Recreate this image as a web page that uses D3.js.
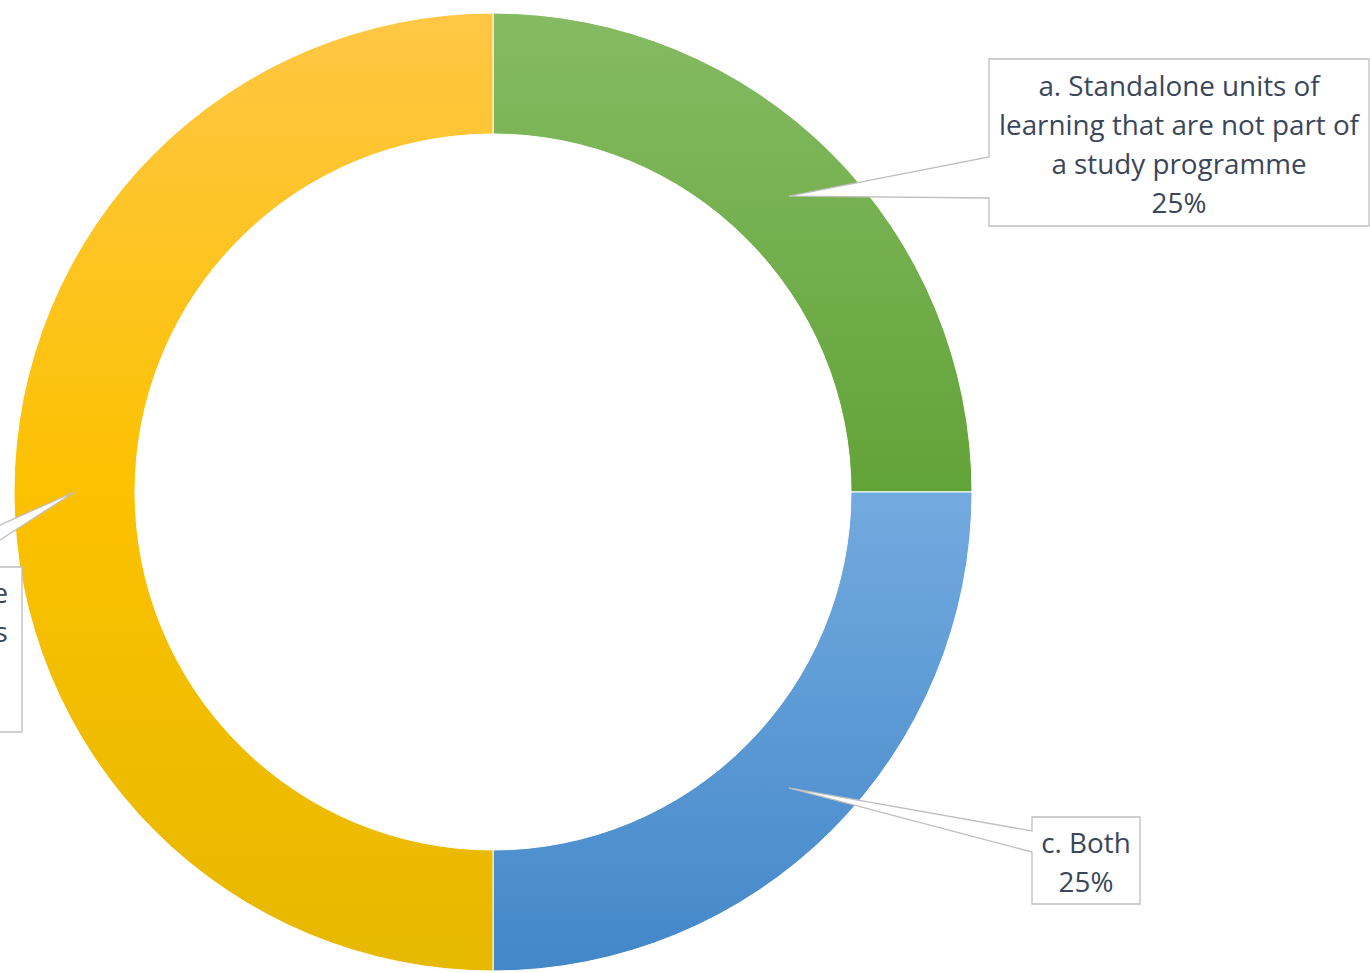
<!DOCTYPE html>
<html>
<head>
<meta charset="utf-8">
<script src="https://cdn.jsdelivr.net/npm/d3@7"></script>
<style>
  html, body { margin: 0; padding: 0; background: #fff; overflow: hidden; }
  svg { display: block; }
</style>
</head>
<body>
<script>
// slices in drawing order (clockwise from 12 o'clock)
const categories = ['a', 'c', 'b']
const values = [25, 25, 50]
const labelLines = {
    a: ['a. Standalone units of', 'learning that are not part of', 'a study programme', '25%'],
    c: ['c. Both', '25%'],
    b: ['b. Units of learning that are', 'listed in study programmes', 'or qualifications', '50%']
}
const colors = {
    a: ['#85BB63', '#62A338'],
    c: ['#73AADF', '#4387C9'],
    b: ['#FFC745', '#FCC100', '#E6B800']
}

const width = 1370, height = 973
const cx = 493, cy = 492
const outerR = 479, innerR = 358

const svg = d3.select('body').append('svg')
    .attr('width', width)
    .attr('height', height)

const defs = svg.append('defs')
categories.forEach(function(c) {
    const g = defs.append('linearGradient').attr('id', 'grad-' + c)
        .attr('x1', 0).attr('y1', 0).attr('x2', 0).attr('y2', 1)
    const stops = colors[c]
    stops.forEach(function(col, i) {
        g.append('stop').attr('offset', (i / (stops.length - 1)) * 100 + '%').attr('stop-color', col)
    })
})

const pie = d3.pie().sort(null).value(function(d, i) { return values[i] })
const arcs = pie(categories)
const arc = d3.arc().innerRadius(innerR).outerRadius(outerR)

const chart = svg.append('g').attr('transform', 'translate(' + cx + ',' + cy + ')')

chart.selectAll('path.slice')
    .data(arcs)
    .enter().append('path')
    .attr('class', 'slice')
    .attr('d', arc)
    .attr('fill', function(d) { return 'url(#grad-' + d.data + ')' })
    .attr('stroke', '#fff')
    .attr('stroke-width', 1)

// callout boxes (layout only): box + where the wedge meets the box
const boxes = {
    a: { x0: 989, y0: 59, x1: 1369, y1: 226, side: 'left', b0: 157, b1: 198, ty: 96 },
    c: { x0: 1032, y0: 817, x1: 1140, y1: 904, side: 'left', b0: 831, b1: 852, ty: 853 },
    b: { x0: -350, y0: 567, x1: 22, y1: 732, side: 'top', b0: -95, b1: -42, ty: 603 }
}

const lineH = 39
arcs.forEach(function(d) {
    const bx = boxes[d.data]
    const tip = arc.centroid(d)
    const tx = tip[0] + cx, ty = tip[1] + cy
    let pts
    if (bx.side === 'left') {
        pts = [[tx, ty], [bx.x0, bx.b0], [bx.x0, bx.y0], [bx.x1, bx.y0], [bx.x1, bx.y1], [bx.x0, bx.y1], [bx.x0, bx.b1]]
    } else {
        pts = [[tx, ty], [bx.b1, bx.y0], [bx.x1, bx.y0], [bx.x1, bx.y1], [bx.x0, bx.y1], [bx.x0, bx.y0], [bx.b0, bx.y0]]
    }
    svg.append('path')
        .attr('d', 'M' + pts.map(function(p) { return p.join(',') }).join('L') + 'Z')
        .attr('fill', '#fff')
        .attr('stroke', '#BFBFBF')
        .attr('stroke-width', 1.3)

    const t = svg.append('text')
        .attr('text-anchor', 'middle')
        .style('font-family', '"Open Sans", sans-serif')
        .style('font-size', '27.8px')
        .style('fill', '#3A4659')
    labelLines[d.data].forEach(function(s, i) {
        t.append('tspan').attr('y', bx.ty + i * lineH).text(s)
    })
    let mid = (bx.x0 + bx.x1) / 2
    if (d.data === 'b') {
        // first line ends just inside the left edge of the picture
        const w1 = t.select('tspan').node().getComputedTextLength()
        mid = 8 - w1 / 2
    }
    t.selectAll('tspan').attr('x', mid)
})
</script>
</body>
</html>
